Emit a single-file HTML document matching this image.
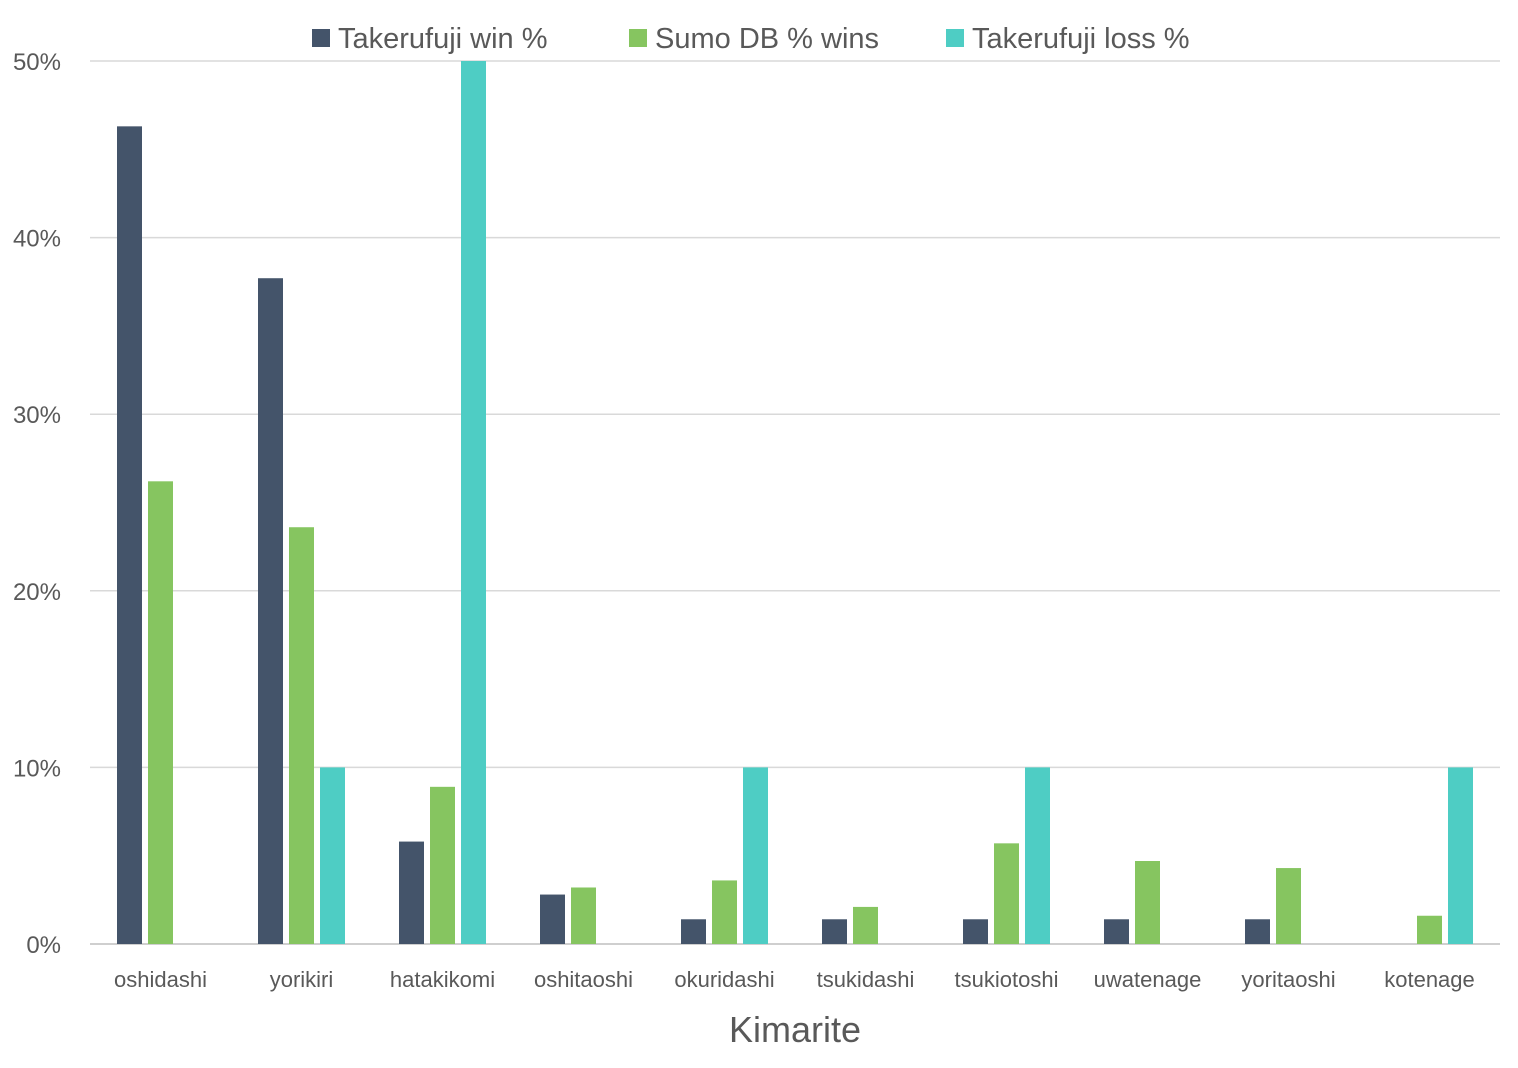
<!DOCTYPE html>
<html><head><meta charset="utf-8"><style>
body{margin:0;background:#fff;}
svg text{font-family:"Liberation Sans",sans-serif;fill:#595959;}
</style></head><body>
<svg id="chart" width="1518" height="1063" xmlns="http://www.w3.org/2000/svg">
<g id="grid"></g><g id="bars"></g><g id="labels"></g>
<g>
<rect x="312" y="29" width="18" height="18" fill="#44546A"/>
<text x="338" y="48" font-size="29">Takerufuji win %</text>
<rect x="629" y="29" width="18" height="18" fill="#86C560"/>
<text x="655" y="48" font-size="29">Sumo DB % wins</text>
<rect x="946" y="29" width="18" height="18" fill="#4ECDC4"/>
<text x="972" y="48" font-size="29">Takerufuji loss %</text>
</g>
<text x="795" y="1042" font-size="36" text-anchor="middle">Kimarite</text>
</svg>
<script>
const categories=["oshidashi","yorikiri","hatakikomi","oshitaoshi","okuridashi","tsukidashi","tsukiotoshi","uwatenage","yoritaoshi","kotenage"];
const winPct=[46.3,37.7,5.8,2.8,1.4,1.4,1.4,1.4,1.4,0];
const dbPct=[26.2,23.6,8.9,3.2,3.6,2.1,5.7,4.7,4.3,1.6];
const lossPct=[0,10,50,0,10,0,10,0,0,10];
const yTicks=[0,10,20,30,40,50];
const NS="http://www.w3.org/2000/svg";
const x0=90,x1=1500,yBase=944,yTop=61,yMax=50;
const y=v=>yBase-(v/yMax)*(yBase-yTop);
const band=(x1-x0)/categories.length;
const xc=i=>x0+band*(i+0.5);
function mk(tag,attrs,parent){const e=document.createElementNS(NS,tag);for(const k in attrs)e.setAttribute(k,attrs[k]);document.getElementById(parent).appendChild(e);return e;}
yTicks.forEach(t=>{
  const l=mk('line',{x1:x0,x2:x1,y1:y(t),y2:y(t),stroke:t===0?'#BFBFBF':'#D9D9D9','stroke-width':1.5},'grid');
  
  
  const tx=mk('text',{x:61,y:y(t)+9,'font-size':24,'text-anchor':'end'},'labels');
  tx.textContent=t+'%';
  
  
});
const series=[[winPct,'#44546A','win',-31],[dbPct,'#86C560','sumo-db',0],[lossPct,'#4ECDC4','loss',31]];
categories.forEach((c,i)=>{
  series.forEach(([arr,col,nm,off])=>{
    const v=arr[i];
    const r=mk('rect',{x:xc(i)+off-12.5,y:y(v),width:25,height:yBase-y(v),fill:col},'bars');
    
    
  });
  const t=mk('text',{x:xc(i),y:987,'font-size':22,'text-anchor':'middle'},'labels');
  t.textContent=c;
  
  
});
</script>
</body></html>
